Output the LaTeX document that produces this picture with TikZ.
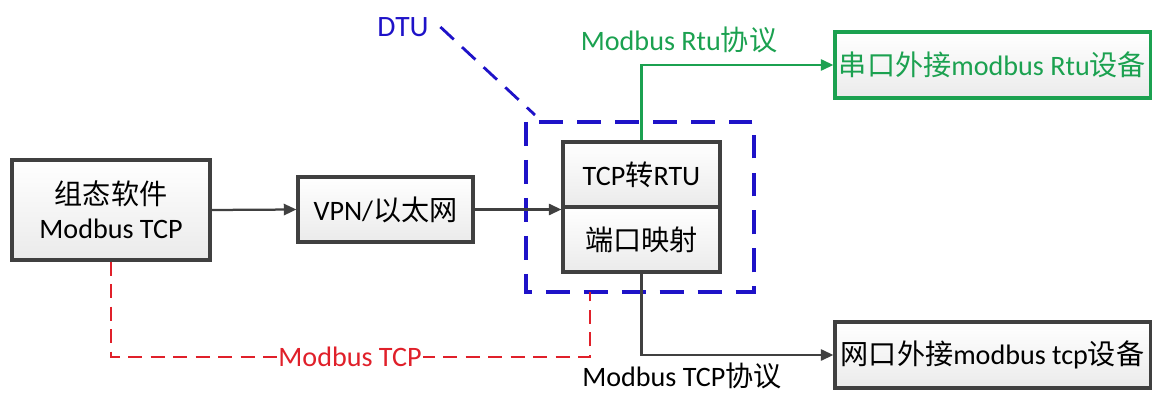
\documentclass[tikz,border=0pt]{standalone}
\usepackage{fontspec}
\setmainfont{Carlito}
\newfontfamily\cjk{Noto Sans CJK SC}
\newcommand{\zh}[1]{{\cjk #1}}
\usetikzlibrary{arrows.meta, positioning, calc, shadows}
\definecolor{cdark}{HTML}{404040}
\definecolor{cgreen}{HTML}{1BA150}
\definecolor{cblue}{HTML}{1E12C8}
\definecolor{cred}{HTML}{E0202A}
\tikzset{
  every picture/.style={font=\fontsize{20}{24}\selectfont, line width=1.6pt},
  box/.style={draw=#1, line width=2.2pt, top color=white, bottom color=gray!16, align=center, inner sep=2pt,
    drop shadow={opacity=0.25, shadow xshift=1.5pt, shadow yshift=-1.5pt}},
  box/.default=cdark,
  arrow/.style={-{Triangle[length=9pt, width=8pt]}, draw=#1},
  arrow/.default=cdark,
  dtuline/.style={draw=cblue, line width=2.6pt, dash pattern=on 17pt off 10pt},
  tcpline/.style={draw=cred, line width=2pt, dash pattern=on 10pt off 6pt},
}

\begin{document}
\begin{tikzpicture}[x=0.025cm, y=-0.025cm]
  \useasboundingbox (0,0) rectangle (1158,394);
  % DTU frame
  \coordinate (dtunw) at (526,122);
  \coordinate (dtuse) at (754,292);
  \draw[dtuline] (dtunw) rectangle (dtuse);
  \node[text=cblue, font=\fontsize{21}{24}\selectfont] (dtulabel) at (403,27) {DTU};
  \draw[dtuline, line width=2pt, dash pattern=on 13pt off 8pt] ($(dtulabel.east)+(6,0)$) -- ($(dtunw)+(9,-7)$);

  \node[box, minimum width=4.95cm, minimum height=2.5cm] (soft) at (111,210) {\zh{组态软件}\\Modbus TCP};
  \node[box, minimum width=4.375cm, minimum height=1.625cm] (vpn) at (385.5,209.5) {VPN/\zh{以太网}};
  \node[box, minimum width=3.925cm, minimum height=1.625cm] (tcp) at (641.5,174.5) {TCP\zh{转}RTU};
  \node[box, minimum width=3.925cm, minimum height=1.625cm] (port) at (641.5,239.5) {\zh{端口映射}};
  \node[box=cgreen, text=cgreen, minimum width=7.875cm, minimum height=1.65cm] (rtudev) at (992.5,65) {\zh{串口外接}modbus Rtu\zh{设备}};
  \node[box, minimum width=7.875cm, minimum height=1.65cm] (tcpdev) at (992.5,355) {\zh{网口外接}modbus tcp\zh{设备}};

  \draw[arrow] (soft.east) -- (vpn.west);
  \draw[arrow] (vpn.east) -- (vpn.east -| tcp.west);
  \draw[arrow=cgreen] (tcp.north) |- (rtudev.west);
  \draw[arrow] (port.south) |- (tcpdev.west);

  \node[text=cgreen] (rtulabel) at (679,40) {Modbus Rtu\zh{协议}};
  \node[inner sep=0pt] (tcplabel) at (682,376) {Modbus TCP\zh{协议}};

  \coordinate (tcpturn) at (590,357);
  \draw[tcpline] (soft.south) |- (tcpturn) -- (tcpturn |- dtuse);
  \node[text=cred, fill=white, inner sep=1pt] (redlabel) at (350,357) {Modbus TCP};
\end{tikzpicture}
\end{document}
